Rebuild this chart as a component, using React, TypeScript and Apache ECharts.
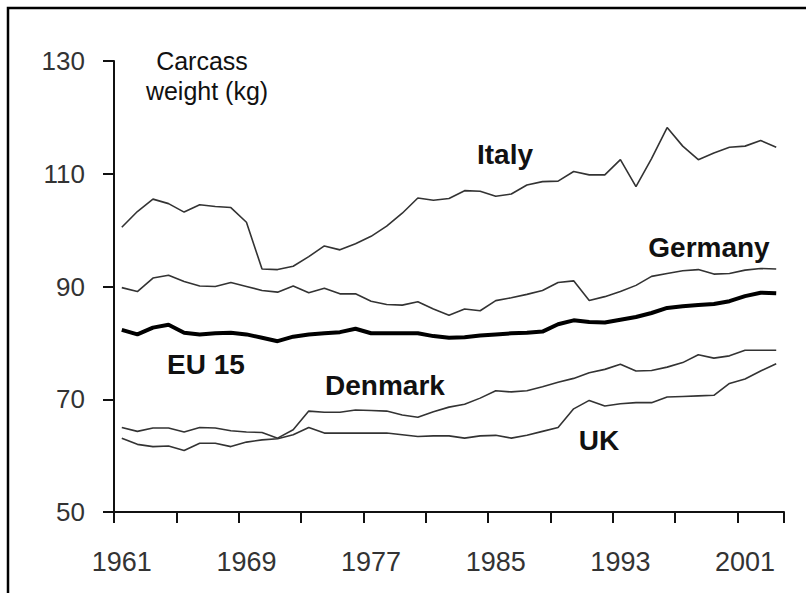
import React, { useEffect, useRef } from "react";
import * as echarts from "echarts";

const years: string[] = [];
for (let y = 1961; y <= 2003; y++) years.push(String(y));

const italy = [100.5, 103.3, 105.5, 104.7, 103.2, 104.5, 104.2, 104, 101.4, 93.1, 93, 93.6, 95.3, 97.2, 96.5, 97.6, 98.9, 100.7, 103, 105.7, 105.3, 105.6, 107, 106.9, 106, 106.4, 108, 108.6, 108.7, 110.4, 109.8, 109.8, 112.5, 107.7, 112.7, 118.2, 114.9, 112.5, 113.7, 114.7, 114.9, 115.9, 114.7];
const germany = [89.8, 89.1, 91.5, 92, 90.9, 90.1, 90, 90.7, 90, 89.3, 89, 90.1, 88.9, 89.7, 88.7, 88.7, 87.4, 86.8, 86.7, 87.3, 86, 84.9, 86, 85.7, 87.5, 88, 88.6, 89.3, 90.7, 91, 87.5, 88.2, 89.1, 90.2, 91.8, 92.3, 92.8, 93, 92.2, 92.3, 92.9, 93.2, 93.1];
const eu15 = [82.3, 81.5, 82.7, 83.2, 81.8, 81.5, 81.7, 81.8, 81.5, 80.9, 80.3, 81.1, 81.5, 81.7, 81.9, 82.5, 81.7, 81.7, 81.7, 81.7, 81.2, 80.9, 81, 81.3, 81.5, 81.7, 81.8, 82, 83.3, 84, 83.7, 83.6, 84.1, 84.6, 85.3, 86.2, 86.5, 86.7, 86.9, 87.4, 88.3, 88.9, 88.8];
const denmark = [65, 64.3, 64.9, 64.9, 64.2, 65, 64.9, 64.4, 64.2, 64.1, 63.1, 64.6, 67.9, 67.7, 67.7, 68.1, 68, 67.9, 67.2, 66.8, 67.8, 68.6, 69.1, 70.2, 71.5, 71.3, 71.5, 72.2, 73, 73.7, 74.7, 75.3, 76.2, 75, 75.1, 75.7, 76.5, 77.9, 77.3, 77.7, 78.7, 78.7, 78.7];
const uk = [63.1, 62, 61.6, 61.7, 60.9, 62.2, 62.2, 61.6, 62.4, 62.8, 63, 63.7, 65, 64, 64, 64, 64, 64, 63.7, 63.4, 63.5, 63.5, 63.1, 63.5, 63.6, 63.1, 63.6, 64.3, 65, 68.3, 69.8, 68.8, 69.2, 69.4, 69.4, 70.4, 70.5, 70.6, 70.7, 72.8, 73.6, 75, 76.3];

const FONT = "Arial, 'Liberation Sans', sans-serif";

export default function App() {
  const ref = useRef<HTMLDivElement>(null);
  useEffect(() => {
    if (!ref.current) return;
    const chart = echarts.init(ref.current, null, { renderer: "svg" });
    const thin = (name: string, data: number[]) => ({
      name,
      type: "line",
      data,
      symbol: "none",
      lineStyle: { color: "#333", width: 1.6 },
    });
    const label = (text: string, x: number, y: number, size: number, bold: boolean) => ({
      type: "text",
      x,
      y,
      style: {
        text,
        fill: "#111",
        font: `${bold ? "bold " : ""}${size}px ${FONT}`,
        textAlign: "center",
        textVerticalAlign: "middle",
      },
    });
    chart.setOption({
      animation: false,
      backgroundColor: "#fff",
      grid: { left: 114, top: 61, right: 22, bottom: 81 },
      xAxis: {
        type: "category",
        data: years,
        boundaryGap: true,
        axisLine: { lineStyle: { color: "#111", width: 2 } },
        axisTick: { show: true, interval: 3, length: 11, lineStyle: { color: "#111", width: 2 } },
        axisLabel: { interval: 7, margin: 36, fontSize: 27, color: "#333", fontFamily: FONT },
      },
      yAxis: {
        type: "value",
        min: 50,
        max: 130,
        interval: 20,
        splitLine: { show: false },
        axisLine: { show: true, lineStyle: { color: "#111", width: 2 } },
        axisTick: { show: true, length: 11, lineStyle: { color: "#111", width: 2 } },
        axisLabel: { margin: 29, fontSize: 26, color: "#333", fontFamily: FONT },
      },
      series: [
        thin("Italy", italy),
        thin("Germany", germany),
        { name: "EU 15", type: "line", data: eu15, symbol: "none", lineStyle: { color: "#000", width: 4 } },
        thin("Denmark", denmark),
        thin("UK", uk),
      ],
      graphic: [
        {
          type: "rect",
          shape: { x: 8, y: 8, width: 900, height: 700 },
          style: { fill: "none", stroke: "#000", lineWidth: 2.5 },
          silent: true,
        },
        label("Carcass", 202, 61, 25, false),
        label("weight (kg)", 207, 91, 25, false),
        label("Italy", 505, 154, 28, true),
        label("Germany", 709, 247, 28, true),
        label("EU 15", 206, 364, 28, true),
        label("Denmark", 385, 385, 28, true),
        label("UK", 599, 440, 28, true),
      ],
    });
    return () => chart.dispose();
  }, []);
  return (
    <div
      ref={ref}
      style={{ position: "fixed", left: 0, top: 0, width: 806, height: 593 }}
    />
  );
}
